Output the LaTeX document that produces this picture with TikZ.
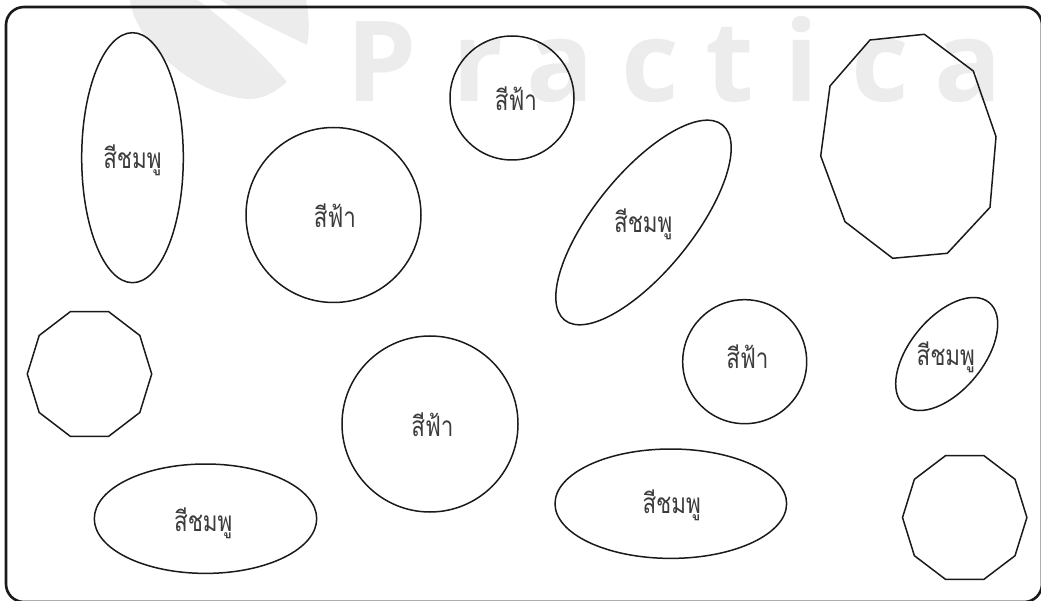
\documentclass[tikz,border=0pt]{standalone}
\usepackage{fontspec}
\newfontfamily\thaifont[Script=Thai,FakeStretch=0.8]{Loma}
\newfontfamily\wmfont{Open Sans}
\definecolor{wmgray}{RGB}{236,236,236}
\definecolor{ink}{RGB}{26,26,26}
\definecolor{txt}{RGB}{60,60,60}
\begin{document}
\begin{tikzpicture}[x=1pt,y=-1pt,
  wm/.style={text=wmgray,font=\wmfont\bfseries\fontsize{112}{112}\selectfont,inner sep=0pt,anchor=base},
  shp/.style={draw=ink,line width=1.5pt},
  lbl/.style={text=txt,font=\thaifont\fontsize{28}{30}\selectfont,inner sep=0pt,anchor=base}]
\useasboundingbox (0,0) rectangle (1041,601);
% watermark
\fill[wmgray] (130,0) .. controls (135,45) and (200,98) .. (250,99) .. controls (265,99) and (278,90) .. (287,82) .. controls (260,50) and (230,25) .. (198,0) -- cycle;
\fill[wmgray] (220,0) .. controls (250,18) and (280,32) .. (307,45) .. controls (310,30) and (309,15) .. (306,0) -- cycle;
\node[wm] (w1) at (382,102) {P};
\node[wm] (w2) at (478,102) {r};
\node[wm] (w3) at (560,102) {a};
\node[wm] (w4) at (650,102) {c};
\node[wm] (w5) at (730,102) {t};
\node[wm] (w6) at (802,102) {i};
\node[wm] (w7) at (880,102) {c};
\node[wm] (w8) at (968,102) {a};
\node[wm] (w9) at (1051,102) {l};
% frame
\draw[draw=ink,line width=2.6pt,rounded corners=18pt] (6,7) rectangle (1042,602);
% ellipses
\draw[shp] (132.5,157.7) ellipse [x radius=50.8, y radius=125];
\draw[shp] (205.5,518.7) ellipse [x radius=111.2, y radius=54.7];
\draw[shp] (670.8,503.7) ellipse [x radius=115.8, y radius=54.7];
\draw[shp,rotate around={51:(643.5,222.5)}] (643.5,222.5) ellipse [x radius=125.5, y radius=49];
\draw[shp,rotate around={50.5:(946.7,354)}] (946.7,354) ellipse [x radius=66.7, y radius=36.7];
% circles
\draw[shp] (333.5,215) circle [radius=87.5];
\draw[shp] (512,98) circle [radius=62];
\draw[shp] (744.7,361.7) circle [radius=62];
\draw[shp] (430,424) circle [radius=88];
% decagons
\draw[shp] plot[samples at={0,36,...,324}, variable=\t] ({89.5+62.2*cos(\t)},{374+65.5*sin(\t)}) -- cycle;
\draw[shp] plot[samples at={0,36,...,324}, variable=\t] ({964.7+62.2*cos(\t)},{517.5+65*sin(\t)}) -- cycle;
\draw[shp] (870,40) -- (924.3,34.3) -- (973.3,71) -- (996,136.7) -- (990,207.3) -- (947.3,253.3) -- (892.7,258.3) -- (845,221.7) -- (820.7,156) -- (830,86) -- cycle;
% labels
\node[lbl] (p1) at (132.5,168.3) {สีชมพู};
\node[lbl] (b1) at (335,227.7) {สีฟ้า};
\node[lbl] (b2) at (516,110.7) {สีฟ้า};
\node[lbl] (p2) at (643.3,232.7) {สีชมพู};
\node[lbl] (b3) at (747.5,369) {สีฟ้า};
\node[lbl] (p3) at (945.8,365.7) {สีชมพู};
\node[lbl] (p5) at (671.7,513.3) {สีชมพู};
\node[lbl] (b4) at (432.5,436) {สีฟ้า};
\node[lbl] (p4) at (203.3,531.7) {สีชมพู};
\end{tikzpicture}
\end{document}
